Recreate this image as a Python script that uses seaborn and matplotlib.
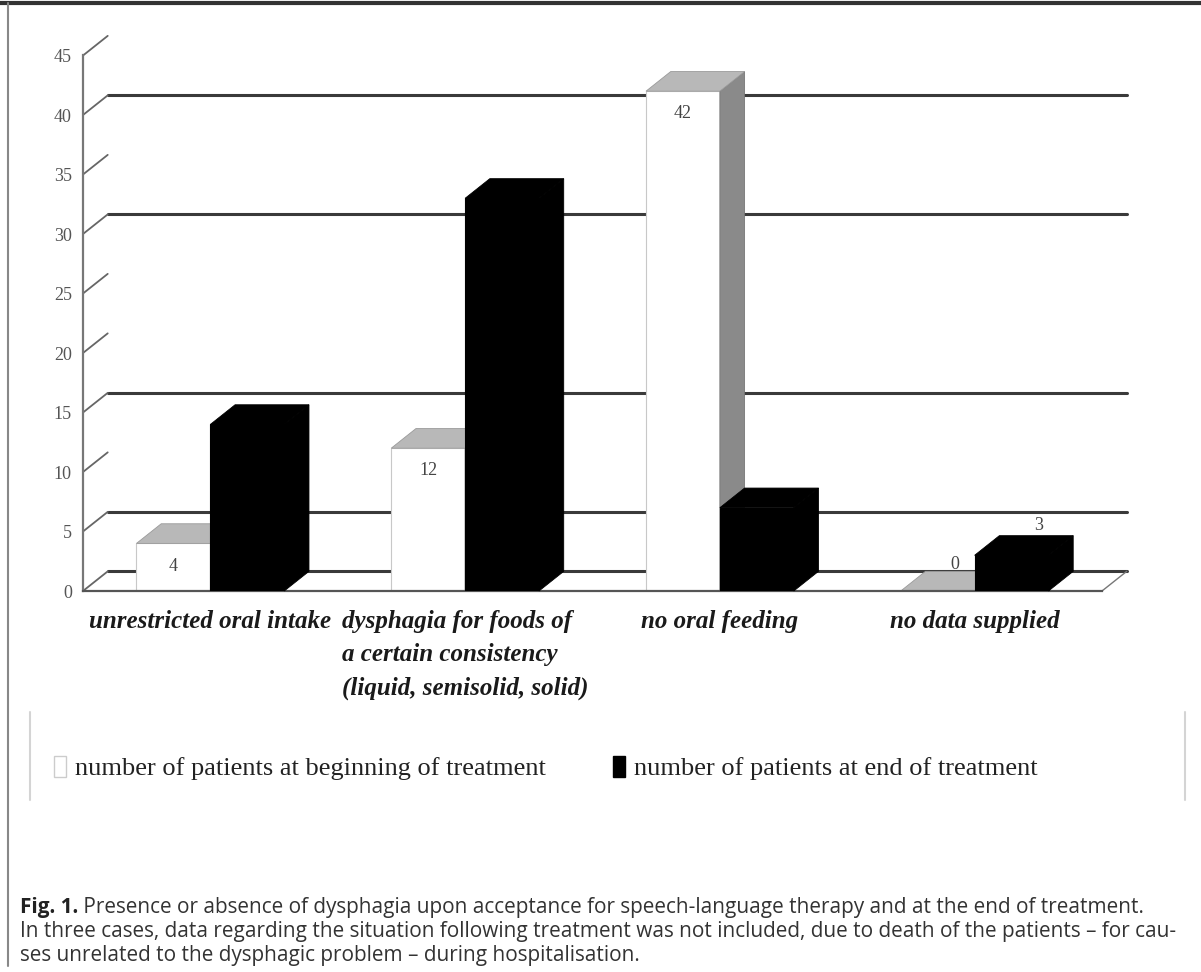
import matplotlib
matplotlib.use("Agg")
import matplotlib.pyplot as plt
import seaborn as sns
import pandas as pd
from matplotlib.patches import Polygon, Patch
from matplotlib.lines import Line2D

# ---------------- data ----------------
categories = [
    "unrestricted oral intake",
    "dysphagia for foods of\na certain consistency\n(liquid, semisolid, solid)",
    "no oral feeding",
    "no data supplied",
]
series = [
    "number of patients at beginning of treatment",
    "number of patients at end of treatment",
]
beginning = [4, 12, 42, 0]
end = [14, 33, 7, 3]
y_ticks = [0, 5, 10, 15, 20, 25, 30, 35, 40, 45]
grid_values = [0, 5, 15, 30, 40]
label_beginning = [True, True, True, True]
label_end = [False, False, False, True]
caption_bold = "Fig. 1."
caption_lines = [
    " Presence or absence of dysphagia upon acceptance for speech-language therapy and at the end of treatment.",
    "In three cases, data regarding the situation following treatment was not included, due to death of the patients \u2013 for cau-",
    "ses unrelated to the dysphagic problem \u2013 during hospitalisation.",
]

df = pd.DataFrame({
    "category": categories * 2,
    "series": [series[0]] * len(categories) + [series[1]] * len(categories),
    "value": beginning + end,
})

# ---------------- figure ----------------
sns.set_style("white")
W, H = 1201, 972
fig = plt.figure(figsize=(W / 100, H / 100), dpi=100)
fig.patch.set_facecolor("white")

def fx(px):
    return px / W

def fy(py):
    return 1 - py / H

SERIF = ["Liberation Serif", "DejaVu Serif"]
ax = fig.add_axes([fx(83), fy(591), fx(1102) - fx(83), (591 - 55.5) / H])
ax.set_facecolor("none")

sns.barplot(data=df, x="category", y="value", hue="series", order=categories,
            hue_order=series, palette=["white", "black"], width=0.58,
            legend=False, ax=ax, saturation=1)

ax.set_xlim(-0.5, 3.5)
ax.set_ylim(0, 45)
DX, DY = 0.097, 1.65

# back wall slant lines & gridlines
for v in y_ticks:
    ax.add_line(Line2D([-0.5, -0.5 + DX], [v, v + DY], color="#666666", lw=1.3,
                       clip_on=False, zorder=0.5))
for v in grid_values:
    ax.add_line(Line2D([-0.5 + DX, 3.5 + DX], [v + DY, v + DY], color="#3a3a3a",
                       lw=2.2, clip_on=False, zorder=0.4))
ax.add_line(Line2D([3.5, 3.5 + DX], [0, DY], color="#777777", lw=1.0,
                   clip_on=False, zorder=0.5))

# 3D faces for bars
bars = sorted([p for p in ax.patches if p.get_width() > 0], key=lambda p: p.get_x())
LBL = dict(fontsize=13, family=SERIF, color="#444444", zorder=5, ha="center")
for i, p in enumerate(bars):
    x0, w, h = p.get_x(), p.get_width(), p.get_height()
    is_white = (i % 2 == 0)
    z = 2 if is_white else 3
    p.set_zorder(z)
    if is_white:
        p.set_edgecolor("#c8c8c8")
        p.set_linewidth(0.8)
        top_c, side_c = "#b8b8b8", "#8a8a8a"
    else:
        p.set_edgecolor("black")
        p.set_linewidth(0.8)
        top_c, side_c = "black", "black"
    top = Polygon([(x0, h), (x0 + DX, h + DY), (x0 + w + DX, h + DY), (x0 + w, h)],
                  closed=True, facecolor=top_c, edgecolor="#9a9a9a" if is_white else "black",
                  lw=0.6, zorder=z, clip_on=False)
    side = Polygon([(x0 + w, 0), (x0 + w + DX, DY), (x0 + w + DX, h + DY), (x0 + w, h)],
                   closed=True, facecolor=side_c, edgecolor="#777777" if is_white else "black",
                   lw=0.6, zorder=z, clip_on=False)
    ax.add_patch(side)
    ax.add_patch(top)
    ci = i // 2
    if is_white and label_beginning[ci]:
        if h > 2:
            ax.text(x0 + w / 2, h - 1.9, str(beginning[ci]), va="center", **LBL)
        else:
            ax.text(x0 + w / 2 + DX * 0.7, h + 2.2, str(beginning[ci]), va="center", **LBL)
    if (not is_white) and label_end[ci]:
        ax.text(x0 + w / 2 + DX * 1.1, h + DY + 0.15, str(end[ci]), va="bottom", **LBL)

# axes styling
for s in ["top", "right"]:
    ax.spines[s].set_visible(False)
ax.spines["left"].set_color("#777777")
ax.spines["left"].set_linewidth(1.6)
ax.spines["bottom"].set_color("#555555")
ax.spines["bottom"].set_linewidth(1.6)
ax.set_xlabel("")
ax.set_ylabel("")
ax.set_yticks(y_ticks)
ax.set_yticklabels([str(v) for v in y_ticks], family=SERIF, fontsize=13, color="#555555")
ax.tick_params(axis="y", length=5, width=1.5, color="#555555", pad=3)
ax.set_xticks(range(len(categories)))
ax.set_xticklabels(categories, family=SERIF, fontsize=18, fontweight="bold",
                   fontstyle="italic", color="#1a1a1a")
ax.set_xticks([-0.5, 0.5, 1.5, 2.5, 3.5], minor=True)
ax.tick_params(axis="x", which="major", length=0, pad=14)
ax.tick_params(axis="x", which="minor", length=4, width=1, color="#bbbbbb")
for lab in ax.get_xticklabels():
    lab.set_multialignment("left")
    lab.set_linespacing(1.55)
ax.grid(False)

# legend
handles = [Patch(facecolor="white", edgecolor="#cccccc", lw=1),
           Patch(facecolor="black", edgecolor="black")]
leg = fig.legend(handles, series, loc="center left", bbox_to_anchor=(fx(30), fy(768)),
                 ncol=2, frameon=False, prop={"family": SERIF, "size": 19},
                 handlelength=0.45, handleheight=0.85, handletextpad=0.35, columnspacing=2.55)
for t in leg.get_texts():
    t.set_color("#222222")

# legend box sides and outer frame
for xp in (30, 1185):
    fig.add_artist(Line2D([fx(xp), fx(xp)], [fy(712), fy(800)], color="#d4d4d4", lw=1.5))
fig.add_artist(Line2D([0, 1], [fy(3), fy(3)], color="#333333", lw=3))
fig.add_artist(Line2D([fx(8), fx(8)], [fy(3), fy(966)], color="#888888", lw=1.5))

# caption (font size fitted so that the widest line spans the text block width)
CAP = ["Open Sans", "DejaVu Sans"]
fig.canvas.draw()
r = fig.canvas.get_renderer()
probe_b = fig.text(0, 0, caption_bold, fontsize=10, fontweight="bold", family=CAP)
probe_r = fig.text(0, 0, caption_lines[0], fontsize=10, family=CAP)
probe_2 = fig.text(0, 0, caption_lines[1], fontsize=10, family=CAP)
w1 = probe_b.get_window_extent(renderer=r).width + probe_r.get_window_extent(renderer=r).width
w2 = probe_2.get_window_extent(renderer=r).width
for pr in (probe_b, probe_r, probe_2):
    pr.remove()
cap_size = 10 * (1178 - 20) / max(w1, w2)

tb = fig.text(fx(20), fy(907), caption_bold, fontsize=cap_size, fontweight="bold",
              family=CAP, va="center", ha="left", color="#222222")
bb = tb.get_window_extent(renderer=r)
fig.text(bb.x1 / W, fy(907), caption_lines[0], fontsize=cap_size, family=CAP,
         va="center", ha="left", color="#333333")
for k, line in enumerate(caption_lines[1:]):
    fig.text(fx(20), fy(931 + 24 * k), line, fontsize=cap_size, family=CAP,
             va="center", ha="left", color="#333333")

fig.savefig("out.png", dpi=100, facecolor="white")
